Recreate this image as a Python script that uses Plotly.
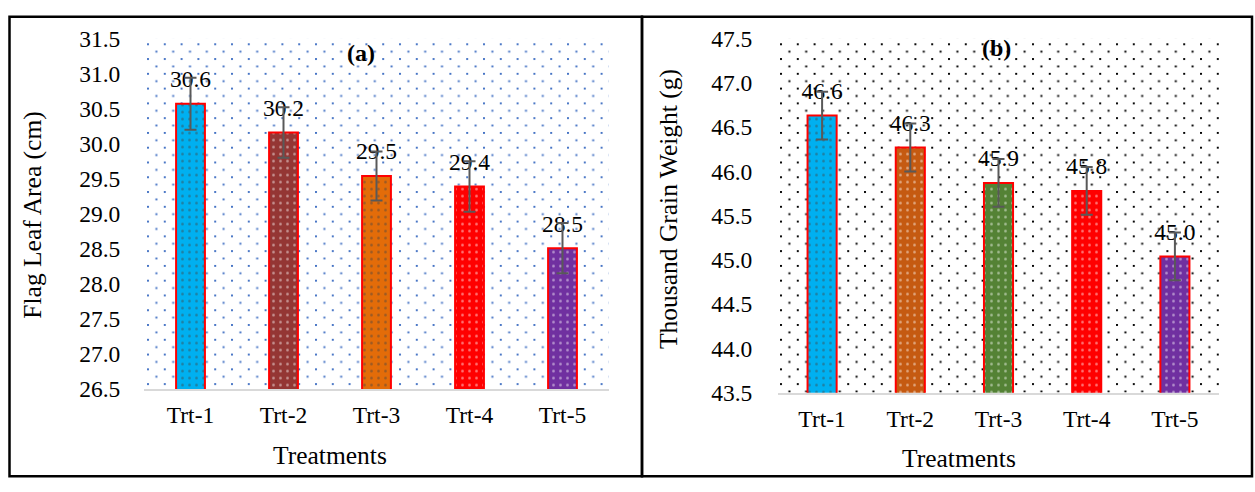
import base64
import plotly.graph_objects as go

# ---------------- data ----------------
categories = ["Trt-1", "Trt-2", "Trt-3", "Trt-4", "Trt-5"]

leaf_area = [30.57, 30.16, 29.54, 29.39, 28.51]
leaf_area_err = [0.37, 0.36, 0.35, 0.36, 0.36]
leaf_area_labels = ["30.6", "30.2", "29.5", "29.4", "28.5"]
leaf_colors = ["#00B0F0", "#943634", "#E36C09", "#FF0000", "#7030A0"]

grain_weight = [46.63, 46.27, 45.87, 45.78, 45.04]
grain_weight_err = [0.27, 0.27, 0.27, 0.27, 0.27]
grain_weight_labels = ["46.6", "46.3", "45.9", "45.8", "45.0"]
grain_colors = ["#00B0F0", "#C55A11", "#548235", "#FF0000", "#7030A0"]

left_ticks = [26.5, 27.0, 27.5, 28.0, 28.5, 29.0, 29.5, 30.0, 30.5, 31.0, 31.5]
right_ticks = [43.5, 44.0, 44.5, 45.0, 45.5, 46.0, 46.5, 47.0, 47.5]

# ---------------- layout constants ----------------
W, H = 1255, 492
FONT = "Liberation Serif"


def px_x(p):
    return p / W


def px_y(p):
    return 1 - p / H


def dot_uri(w, h, color, period_x, row_y, dot, ox, oy):
    svg = (
        f'<svg xmlns="http://www.w3.org/2000/svg" width="{w}" height="{h}" '
        f'viewBox="0 0 {w} {h}" preserveAspectRatio="none">'
        f'<defs><pattern id="p" x="{ox}" y="{oy}" width="{period_x}" height="{2*row_y}" '
        f'patternUnits="userSpaceOnUse">'
        f'<rect x="0" y="0" width="{dot}" height="{dot}" fill="{color}"/>'
        f'<rect x="{period_x/2}" y="{row_y}" width="{dot}" height="{dot}" fill="{color}"/>'
        f'</pattern></defs><rect width="{w}" height="{h}" fill="url(#p)"/></svg>'
    )
    return "data:image/svg+xml;base64," + base64.b64encode(svg.encode()).decode()


fig = go.Figure()

bar_pattern = dict(shape=".", fgcolor="white", size=7, solidity=0.12)


def add_panel(xa, ya, values, errs, labels, colors, marker_size, bar_width):
    fig.add_trace(go.Bar(
        x=categories, y=values, xaxis=xa, yaxis=ya,
        marker=dict(color=colors, line=dict(color="#FF0000", width=2),
                    pattern=bar_pattern),
        width=bar_width, showlegend=False, hoverinfo="skip",
    ))
    fig.add_trace(go.Scatter(
        x=categories, y=values, xaxis=xa, yaxis=ya,
        mode="markers+text", text=labels, textposition="top center",
        textfont=dict(family=FONT, size=23.5, color="#000000"),
        marker=dict(size=marker_size, color="rgba(0,0,0,0)"),
        showlegend=False, hoverinfo="skip", cliponaxis=False,
    ))
    fig.add_trace(go.Scatter(
        x=categories, y=values, xaxis=xa, yaxis=ya, mode="markers",
        marker=dict(size=1, color="rgba(0,0,0,0)"),
        error_y=dict(type="data", array=errs, visible=True,
                     color="#595959", thickness=2, width=6),
        showlegend=False, hoverinfo="skip", cliponaxis=False,
    ))


add_panel("x", "y", leaf_area, leaf_area_err, leaf_area_labels, leaf_colors, 15.5, 0.31)
add_panel("x2", "y2", grain_weight, grain_weight_err, grain_weight_labels, grain_colors, 16, 0.33)

tickfont = dict(family=FONT, size=23.5, color="#000000")
xcommon = dict(type="category", showline=True, linecolor="#D9D9D9", linewidth=2,
               ticks="outside", tickcolor="rgba(0,0,0,0)", ticklen=4,
               tickfont=tickfont, showgrid=False, zeroline=False, fixedrange=True)
ycommon = dict(showline=False, showgrid=False, zeroline=False, ticks="outside",
               tickcolor="rgba(0,0,0,0)", tickformat=".1f", tickfont=tickfont,
               fixedrange=True)

fig.update_layout(
    width=W, height=H,
    margin=dict(l=0, r=0, t=0, b=0),
    paper_bgcolor="white", plot_bgcolor="rgba(0,0,0,0)",
    font=dict(family=FONT, color="#000000"),
    showlegend=False,
    xaxis=dict(domain=[px_x(144), px_x(609)], anchor="y", **xcommon),
    yaxis=dict(domain=[px_y(397), px_y(27)], anchor="x", range=[26.5, 31.5],
               tickvals=left_ticks, ticklen=18, **ycommon),
    xaxis2=dict(domain=[px_x(778), px_x(1219)], anchor="y2", **xcommon),
    yaxis2=dict(domain=[px_y(401), px_y(27)], anchor="x2", range=[43.5, 47.5],
                tickvals=right_ticks, ticklen=20, **ycommon),
)

# dotted plot-area backgrounds
fig.add_layout_image(dict(
    source=dot_uri(465, 370, "#4472C4", 16.8, 7.8, 2, 3, 5),
    xref="x domain", yref="y domain", x=0, y=1, sizex=1, sizey=1,
    xanchor="left", yanchor="top", sizing="stretch", layer="below"))
fig.add_layout_image(dict(
    source=dot_uri(441, 374, "#000000", 16.8, 7.8, 2, 2, 5),
    xref="x2 domain", yref="y2 domain", x=0, y=1, sizex=1, sizey=1,
    xanchor="left", yanchor="top", sizing="stretch", layer="below"))

# panel borders
for x0, x1 in [(9.5, 642), (642, 1252)]:
    fig.add_shape(type="rect", xref="paper", yref="paper",
                  x0=px_x(x0), x1=px_x(x1), y0=px_y(489), y1=px_y(4),
                  line=dict(color="#000000", width=2.5), fillcolor="rgba(0,0,0,0)")

title_font = dict(family=FONT, size=25.5, color="#000000")
annos = [
    dict(text="Flag Leaf Area (cm)", x=px_x(33), y=px_y(214), textangle=-90),
    dict(text="Thousand Grain Weight (g)", x=px_x(668), y=px_y(207), textangle=-90),
    dict(text="Treatments", x=px_x(330), y=px_y(467)),
    dict(text="Treatments", x=px_x(959), y=px_y(470)),
]
for a in annos:
    fig.add_annotation(xref="paper", yref="paper", showarrow=False,
                       xanchor="center", yanchor="middle", font=title_font, **a)

for txt, xx, yy in [("<b>(a)</b>", 361, 42), ("<b>(b)</b>", 996, 37)]:
    fig.add_annotation(text=txt, xref="paper", yref="paper", x=px_x(xx), y=px_y(yy),
                       showarrow=False, xanchor="center", yanchor="middle",
                       font=dict(family=FONT, size=24, color="#000000"))

fig.write_html(
    "out.html",
    config={"displayModeBar": False},
    post_script="document.body.style.margin='0';document.body.style.overflow='hidden';",
)
